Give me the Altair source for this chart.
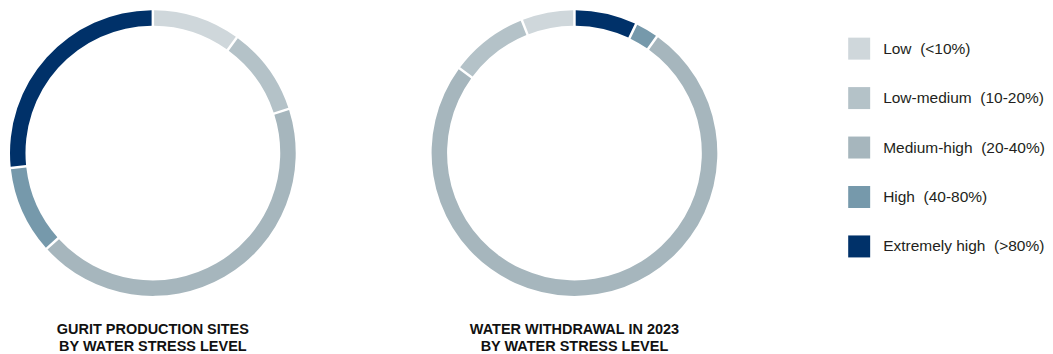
import altair as alt
import pandas as pd

categories = [
    "Low\u00a0 (<10%)",
    "Low-medium\u00a0 (10-20%)",
    "Medium-high\u00a0 (20-40%)",
    "High\u00a0 (40-80%)",
    "Extremely high\u00a0 (>80%)",
]
colors = ["#cfd7db", "#b4c2c8", "#a6b6bd", "#7699ab", "#003169"]

# number of production sites per water stress level
sites = [3, 3, 13, 3, 8]
sites_order = [1, 2, 3, 4, 5]

# share of water withdrawal 2023 (%)
withdrawal = [6.0, 8.9, 75.3, 2.7, 7.1]
withdrawal_order = [5, 4, 3, 2, 1]

df_sites = pd.DataFrame({"level": categories, "value": sites, "ord": sites_order})
df_with = pd.DataFrame({"level": categories, "value": withdrawal, "ord": withdrawal_order})

color = alt.Color(
    "level:N",
    scale=alt.Scale(domain=categories, range=colors),
    sort=categories,
    legend=alt.Legend(
        orient="none", legendX=841, legendY=29.5, title=None,
        symbolType="square", symbolSize=484, symbolStrokeWidth=0,
        labelFontSize=15.5, labelFont="Liberation Sans", labelColor="#231f20",
        labelOffset=13, rowPadding=27.5, padding=0, labelLimit=400,
    ),
)


def donut(df, title_lines):
    return alt.Chart(df).mark_arc(
        outerRadius=143, innerRadius=127.5, padAngle=0.013
    ).encode(
        theta=alt.Theta("value:Q", stack=True),
        order=alt.Order("ord:Q"),
        color=color,
    ).properties(
        width=290, height=290,
        title=alt.TitleParams(
            title_lines, orient="bottom", fontSize=14.5, font="Liberation Sans",
            fontWeight="bold", offset=25, lineHeight=17, color="#111111", anchor="middle",
        ),
    )


left = donut(df_sites, ["GURIT PRODUCTION SITES", "BY WATER STRESS LEVEL"])
right = donut(df_with, ["WATER WITHDRAWAL IN 2023", "BY WATER STRESS LEVEL"])

chart = alt.hconcat(left, right, spacing=132).properties(
    padding={"left": 0, "top": 0, "right": 0, "bottom": 0}
).configure_view(strokeWidth=0)

chart.save("out.html", embed_options={"renderer": "svg", "actions": False})
